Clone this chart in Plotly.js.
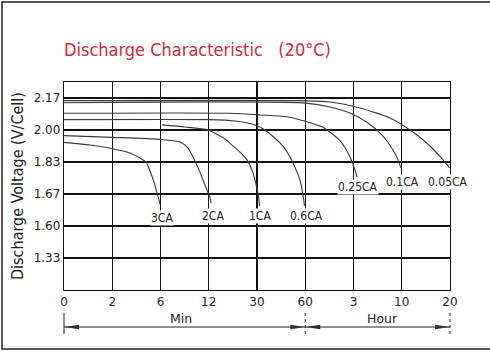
<!DOCTYPE html>
<html>
<head>
<meta charset="utf-8">
<script src="https://cdn.plot.ly/plotly-3.0.1.min.js"></script>
<style>html,body{margin:0;padding:0;background:#fff;}#chart{width:490px;height:352px;}</style>
</head>
<body>
<div id="chart"></div>
<script>
// ---- Axis ticks (broken scales as printed on the chart) ----
const xTickTimes = [0, 2, 6, 12, 30, 60, 180, 600, 1200];        // minutes
const xTickText  = ['0', '2', '6', '12', '30', '60', '3', '10', '20'];
const yTickVolts = [1.33, 1.60, 1.67, 1.83, 2.00, 2.17];         // V/cell
const yTickText  = ['1.33', '1.60', '1.67', '1.83', '2.00', '2.17'];

// ---- Discharge curves: time (minutes) and voltage (V/cell) ----
const seriesNames = ['3CA', '2CA', '1CA', '0.6CA', '0.25CA', '0.1CA', '0.05CA'];

const t3CA = [0, 1.08, 1.91, 3.47, 4.30, 4.80, 5.13, 5.46, 5.71, 5.88, 5.96];
const v3CA = [1.934, 1.920, 1.903, 1.878, 1.851, 1.830, 1.785, 1.730, 1.675, 1.657, 1.648];

const t2CA = [0, 1.99, 5.96, 8.42, 9.42, 10.04, 10.79, 11.29, 11.78, 12.47, 12.84];
const v2CA = [1.970, 1.961, 1.950, 1.936, 1.904, 1.857, 1.790, 1.740, 1.690, 1.663, 1.650];

const t1CA = [6.19, 9.05, 11.91, 18.06, 20.67, 23.66, 26.27, 28.13, 29.26, 30.8, 31.55];
const v1CA = [2.027, 2.016, 2.000, 1.952, 1.920, 1.883, 1.841, 1.790, 1.740, 1.668, 1.644];

const t06CA = [0, 11.91, 21.79, 29.26, 35.0, 44.3, 48.7, 52.4, 56.7, 58.6, 59.5];
const v06CA = [2.055, 2.055, 2.048, 2.027, 2.000, 1.931, 1.883, 1.825, 1.740, 1.668, 1.644];

const t025CA = [0, 19.9, 31.9, 50.5, 104.2, 146.4, 171.3, 193.0, 210.7];
const v025CA = [2.089, 2.089, 2.080, 2.068, 2.014, 1.943, 1.857, 1.790, 1.755];

const t01CA = [0, 58.6, 121.6, 171.3, 306.4, 436.6, 524.0, 567.3, 593.3];
const v01CA = [2.145, 2.144, 2.122, 2.090, 2.037, 1.968, 1.894, 1.841, 1.800];

const t005CA = [0, 56.7, 121.6, 236.7, 497.5, 739.9, 951, 1113, 1194];
const v005CA = [2.156, 2.156, 2.149, 2.117, 2.064, 1.989, 1.915, 1.841, 1.800];

const seriesT = [t3CA, t2CA, t1CA, t06CA, t025CA, t01CA, t005CA];
const seriesV = [v3CA, v2CA, v1CA, v06CA, v025CA, v01CA, v005CA];

// ---- Piecewise scale of the printed grid ----
function piecewise(v, from, to) {
  const n = from.length;
  let i = 0;
  if (v <= from[0]) i = 0;
  else if (v >= from[n - 1]) i = n - 2;
  else { while (!(v >= from[i] && v <= from[i + 1])) i++; }
  return to[i] + (v - from[i]) * (to[i + 1] - to[i]) / (from[i + 1] - from[i]);
}
const xGridPos = xTickTimes.map((_, i) => i);
const yGridPos = yTickVolts.map((_, i) => i + 1);
const xPos = t => piecewise(t, xTickTimes, xGridPos);
const yPos = v => piecewise(v, yTickVolts, yGridPos);

const X_RANGE = [0, 8];
const Y_RANGE = [0, 6.5];

// ---- Styling ----
const FONT = 'DejaVu Sans, Verdana, sans-serif';
const FONT_C = 'DejaVu Sans Condensed, DejaVu Sans, sans-serif';
const GRID = '#111';
const CURVE = '#3a3a3a';

const traces = seriesNames.map((name, k) => ({
  type: 'scatter', mode: 'lines', name: name,
  x: seriesT[k].map(xPos), y: seriesV[k].map(yPos),
  line: {color: CURVE, width: 1.1, shape: 'spline', smoothing: 0.6},
  hoverinfo: 'skip', showlegend: false
}));

// label offsets (px) relative to each curve's end point
const labelShift = [[2, -6], [1.5, -5], [0.5, -2], [2, -2], [1, -2], [1.5, -6], [-1.5, -6]];
const annotations = seriesNames.map((name, k) => {
  const T = seriesT[k], V = seriesV[k];
  return {
    text: name, xref: 'x', yref: 'y',
    x: xPos(T[T.length - 1]), y: yPos(V[V.length - 1]),
    xanchor: 'center', yanchor: 'top', showarrow: false,
    xshift: labelShift[k][0], yshift: labelShift[k][1],
    bgcolor: '#fff', borderpad: 0,
    font: {family: FONT_C, size: 12, color: '#222'}
  };
});

// plot area geometry in px (for paper conversions of the decorations below)
const M = {l: 64, r: 40, t: 82, b: 62};
const W = 490, H = 352;
const pw = W - M.l - M.r, ph = H - M.t - M.b;
const pxX = px => (px - M.l) / pw;
const pxY = py => (H - M.b - py) / ph;
const posX = idx => (idx - X_RANGE[0]) / (X_RANGE[1] - X_RANGE[0]);

// time-unit annotations
annotations.push({text: 'Min', xref: 'paper', yref: 'paper', x: posX(2.43), y: pxY(318),
  showarrow: false, xanchor: 'center', yanchor: 'middle', font: {family: FONT, size: 12.5, color: '#222'}});
annotations.push({text: 'Hour', xref: 'paper', yref: 'paper', x: posX(6.6), y: pxY(318),
  showarrow: false, xanchor: 'center', yanchor: 'middle', font: {family: FONT, size: 12.5, color: '#222'}});

const xStart = posX(xPos(0)), xMid = posX(xPos(60)), xEnd = posX(xPos(1200));
const yArrow = pxY(327), yBarTop = pxY(313), yBarBot = pxY(334);
const headL = 15 / pw, headH = 2.2 / ph;
function tri(xTip, dir) { // dir = -1 points left, +1 points right
  const xb = xTip - dir * headL;
  return `M ${xTip} ${yArrow} L ${xb} ${yArrow + headH} L ${xb} ${yArrow - headH} Z`;
}
const shapes = [
  // outer frame
  {type: 'rect', xref: 'paper', yref: 'paper', x0: pxX(2), x1: pxX(493), y0: pxY(349), y1: pxY(2),
   line: {color: '#222', width: 1.5}, fillcolor: 'rgba(0,0,0,0)'},
  {type: 'line', xref: 'paper', yref: 'paper', x0: pxX(3), x1: pxX(490), y0: pxY(346), y1: pxY(346),
   line: {color: '#e4e4e4', width: 1}},
  // Min / Hour spans
  {type: 'line', xref: 'paper', yref: 'paper', x0: xStart, x1: xEnd, y0: yArrow, y1: yArrow, line: {color: '#222', width: 1}},
  {type: 'line', xref: 'paper', yref: 'paper', x0: xStart, x1: xStart, y0: yBarBot, y1: yBarTop, line: {color: '#222', width: 1}},
  {type: 'line', xref: 'paper', yref: 'paper', x0: xMid, x1: xMid, y0: yBarBot, y1: yBarTop, line: {color: '#222', width: 1, dash: 'dot'}},
  {type: 'line', xref: 'paper', yref: 'paper', x0: xEnd, x1: xEnd, y0: yBarBot, y1: yBarTop, line: {color: '#222', width: 1, dash: 'dot'}},
  {type: 'path', xref: 'paper', yref: 'paper', path: tri(xStart, -1), fillcolor: '#333', line: {width: 0}},
  {type: 'path', xref: 'paper', yref: 'paper', path: tri(xMid, 1), fillcolor: '#333', line: {width: 0}},
  {type: 'path', xref: 'paper', yref: 'paper', path: tri(xMid, -1), fillcolor: '#333', line: {width: 0}},
  {type: 'path', xref: 'paper', yref: 'paper', path: tri(xEnd, 1), fillcolor: '#333', line: {width: 0}}
];

const layout = {
  width: W, height: H,
  margin: M,
  paper_bgcolor: '#fff', plot_bgcolor: '#fff',
  title: {
    text: 'Discharge Characteristic\u00a0\u00a0\u00a0(20°C)',
    xref: 'container', yref: 'container', x: 64 / W, xanchor: 'left', y: 1 - 50 / H, yanchor: 'middle',
    font: {family: FONT_C, size: 18, color: '#d0283a'}
  },
  xaxis: {
    range: X_RANGE, tickmode: 'array', tickvals: xGridPos, ticktext: xTickText,
    showgrid: true, gridcolor: GRID, gridwidth: 1.2, zeroline: false,
    showline: true, linecolor: GRID, linewidth: 1.2, mirror: true,
    ticks: '', tickfont: {family: FONT, size: 12, color: '#222'}, fixedrange: true
  },
  yaxis: {
    range: Y_RANGE, tickmode: 'array', tickvals: yGridPos, ticktext: yTickText,
    showgrid: true, gridcolor: GRID, gridwidth: 1.2, zeroline: false,
    showline: true, linecolor: GRID, linewidth: 1.2, mirror: true,
    ticks: '', ticklabelstandoff: 0, tickfont: {family: FONT, size: 12, color: '#222'},
    title: {text: 'Discharge Voltage (V/Cell)', standoff: 6, font: {family: FONT_C, size: 16, color: '#222'}},
    fixedrange: true
  },
  shapes: shapes,
  annotations: annotations,
  showlegend: false
};

Plotly.newPlot('chart', traces, layout, {staticPlot: true, displayModeBar: false});
</script>
</body>
</html>
